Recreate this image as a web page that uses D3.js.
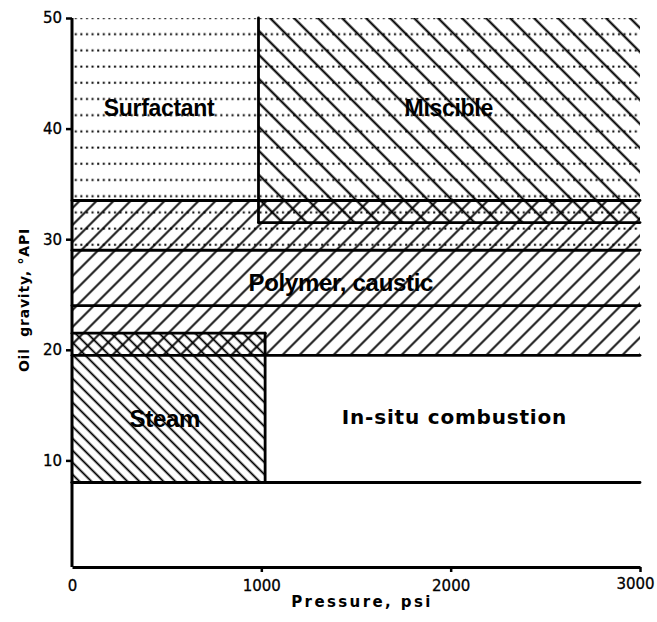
<!DOCTYPE html>
<html>
<head>
<meta charset="utf-8">
<script src="https://cdn.jsdelivr.net/npm/d3@7"></script>
<style>
  body { margin: 0; background: #fff; }
  svg { display: block; }
</style>
</head>
<body>
<svg id="chart"></svg>
<script>
// screening regions, pressure in psi, oil gravity in API degrees
const regions = ["Surfactant", "Miscible", "Polymer, caustic", "Steam", "In-situ combustion"];
const pressureLo = [0, 985, 0, 0, 0];
const pressureHi = [3000, 3000, 3000, 1020, 3000];
const gravityLo = [29, 31.5, 19.5, 8, 8];
const gravityHi = [50, 50, 33.5, 21.5, 19.5];
const labelPressure = [460, 1990, 1420, 490, 2020];
const labelGravity = [41.9, 41.9, 26.1, 13.8, 13.9];
const dividerGravity = [24];
const xTicks = [0, 1000, 2000, 3000];
const yTicks = [10, 20, 30, 40, 50];

const width = 657, height = 622;
const svg = d3.select('#chart').attr('width', width).attr('height', height);

const x = d3.scaleLinear().domain([0, 3000]).range([72, 640]);
const y = d3.scaleLinear().domain([0, 50]).range([571, 18]);
const axisY = 567;

// fills and outlines per region
const fills = ['dots', 'hatchWide', 'hatchFwd', 'hatchDense', null];
const edges = ['b', 'lb', 'tb', 'trb', 'b'];

const defs = svg.append('defs');
defs.append('pattern')
    .attr('id', 'dots')
    .attr('patternUnits', 'userSpaceOnUse')
    .attr('x', 0).attr('y', y(50) - 3.5)
    .attr('width', 5.6).attr('height', 16.2)
    .append('rect')
    .attr('x', 2).attr('y', 2.5)
    .attr('width', 2).attr('height', 2)
    .attr('fill', '#000');

let hatch = (id, gap, angle, sw) => {
    let p = defs.append('pattern')
        .attr('id', id)
        .attr('patternUnits', 'userSpaceOnUse')
        .attr('width', gap).attr('height', gap)
        .attr('patternTransform', `rotate(${angle})`);
    p.append('line')
        .attr('x1', gap / 2).attr('x2', gap / 2)
        .attr('y1', -1).attr('y2', gap + 1)
        .attr('stroke', '#000')
        .attr('stroke-width', sw);
};
hatch('hatchWide', 24 / Math.SQRT2, -45, 2.1);
hatch('hatchFwd', 17 / Math.SQRT2, 45, 1.9);
hatch('hatchDense', 12 / Math.SQRT2, -45, 1.8);

// draw order: dots, polymer, miscible, steam
const order = [0, 2, 1, 3];
svg.append('g').selectAll('rect')
    .data(order.filter(i => fills[i]))
    .enter()
    .append('rect')
    .attr('x', i => x(pressureLo[i]))
    .attr('y', i => y(gravityHi[i]))
    .attr('width', i => x(pressureHi[i]) - x(pressureLo[i]))
    .attr('height', i => y(gravityLo[i]) - y(gravityHi[i]))
    .attr('fill', i => `url(#${fills[i]})`);

// region outlines
let segs = [];
regions.forEach((r, i) => {
    let x0 = x(pressureLo[i]), x1 = x(pressureHi[i]);
    let y0 = y(gravityLo[i]), y1 = y(gravityHi[i]);
    if (edges[i].includes('t')) segs.push([x0, y1, x1, y1]);
    if (edges[i].includes('b')) segs.push([x0, y0, x1, y0]);
    if (edges[i].includes('l')) segs.push([x0, y0, x0, y1]);
    if (edges[i].includes('r')) segs.push([x1, y0, x1, y1]);
});
dividerGravity.forEach(g => segs.push([x(0), y(g), x(3000), y(g)]));

svg.append('g').selectAll('line')
    .data(segs)
    .enter()
    .append('line')
    .attr('x1', d => d[0]).attr('y1', d => d[1])
    .attr('x2', d => d[2]).attr('y2', d => d[3])
    .attr('stroke', '#000')
    .attr('stroke-width', 2.8)
    .attr('stroke-linecap', 'round');

// axes
let gx = svg.append('g')
    .attr('transform', `translate(0,${axisY})`)
    .call(d3.axisBottom(x).tickValues(xTicks).tickFormat(d3.format('d'))
        .tickSize(5).tickSizeOuter(0).tickPadding(8));
let gy = svg.append('g')
    .attr('transform', `translate(${x(0)},0)`)
    .call(d3.axisLeft(y).tickValues(yTicks).tickSize(6).tickSizeOuter(0).tickPadding(4));
gy.select('.domain').attr('d', `M0,${y(50)}V${axisY}`);
[gx, gy].forEach(g => {
    g.select('.domain').attr('stroke', '#000').attr('stroke-width', 3);
    g.selectAll('.tick line').attr('stroke', '#000').attr('stroke-width', 2.5);
    g.selectAll('.tick text')
        .attr('fill', '#000')
        .style('font-family', 'DejaVu Sans, sans-serif')
        .style('font-size', '15px')
        .style('stroke', '#000')
        .style('stroke-width', '0.3px');
});
gx.selectAll('.tick').filter(d => d === 0).select('line').remove();
gx.selectAll('.tick').filter(d => d === 3000).select('text').attr('dx', -5).attr('y', 11);

// region labels
const faces = ['Liberation Sans', 'Liberation Sans', 'Liberation Sans', 'Liberation Sans', 'DejaVu Sans'];
const sizes = [23, 23, 24, 24, 20];
svg.append('g').selectAll('text')
    .data(regions)
    .enter()
    .append('text')
    .attr('x', (d, i) => x(labelPressure[i]))
    .attr('y', (d, i) => y(labelGravity[i]))
    .attr('dy', '0.35em')
    .attr('text-anchor', 'middle')
    .style('font-family', (d, i) => faces[i] + ', sans-serif')
    .style('font-weight', 'bold')
    .style('font-size', (d, i) => sizes[i] + 'px')
    .style('letter-spacing', (d, i) => i === 4 ? '0.8px' : '-0.3px')
    .attr('fill', '#000')
    .text(d => d);

// axis titles
svg.append('text')
    .attr('x', 362).attr('y', 607)
    .attr('text-anchor', 'middle')
    .style('font-family', 'DejaVu Sans, sans-serif')
    .style('font-weight', 'bold')
    .style('font-size', '15px')
    .style('letter-spacing', '2.4px')
    .attr('fill', '#000')
    .text('Pressure, psi');

svg.append('text')
    .attr('transform', 'translate(24,300) rotate(-90)')
    .attr('dy', '0.35em')
    .attr('text-anchor', 'middle')
    .style('font-family', 'DejaVu Sans, sans-serif')
    .style('font-weight', 'bold')
    .style('font-size', '14px')
    .style('letter-spacing', '0.8px')
    .style('white-space', 'pre')
    .attr('fill', '#000')
    .text('Oil  gravity, °API');
</script>
</body>
</html>
